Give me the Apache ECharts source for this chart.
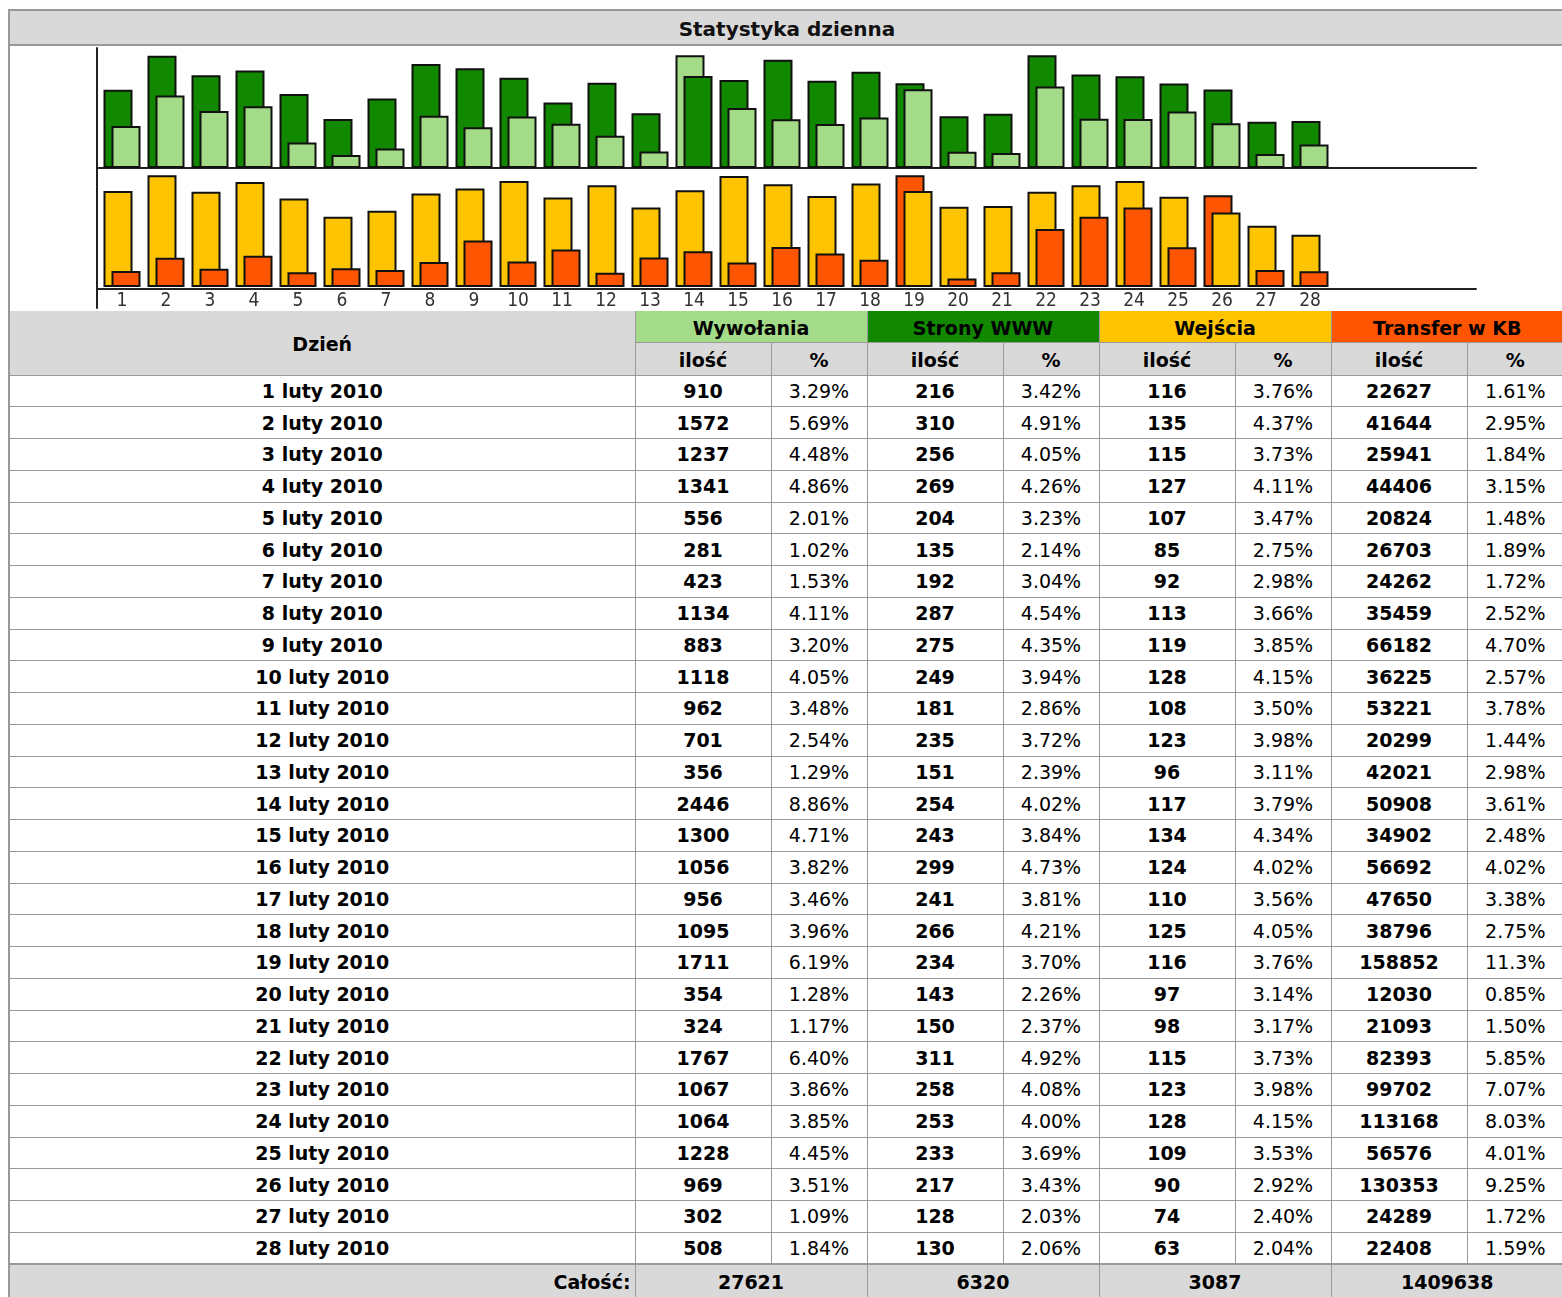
<!DOCTYPE html>
<html>
<head>
<meta charset="utf-8">
<script src="https://cdn.jsdelivr.net/npm/echarts@6/dist/echarts.min.js"></script>
<style>
html, body { margin: 0; padding: 0; background: #fff; overflow: hidden; width: 1562px; height: 1297px; }
#box { position: absolute; left: 8px; top: 9px; width: 1554px; border: 2px solid #999; font-family: "DejaVu Sans", Verdana, sans-serif; color: #000; background: #fff; }
#title { height: 33px; line-height: 37px; overflow: hidden; background: #d9d9d9; border-bottom: 2px solid #999; text-align: center; font-weight: bold; font-size: 20px; color: #111; }
#chart { width: 1554px; height: 265px; }
table { border-collapse: collapse; border-style: hidden; width: 1553px; table-layout: fixed; font-size: 19px; }
td, th { border: 1px solid #999; text-align: center; padding: 0; white-space: nowrap; overflow: hidden; }
th { font-weight: bold; }
.g { background: #d9d9d9; }
tr.h1 { height: 31px; }
tr.h1 th { padding-top: 3px; }
tr.h2 { height: 33px; }
tr.h2 th { padding-top: 2px; }
tbody tr { height: 31.75px; }
td.b { font-weight: bold; }
tfoot td { background: #d9d9d9; font-weight: bold; height: 34px; border-top: 2px solid #999; padding-top: 0; }
tfoot td.lbl { text-align: right; padding-right: 4px; }
</style>
</head>
<body>
<div id="box">
  <div id="title">Statystyka dzienna</div>
  <div id="chart"></div>
  <table>
    <colgroup>
      <col style="width:625px">
      <col style="width:136px"><col style="width:96px">
      <col style="width:136px"><col style="width:96px">
      <col style="width:136px"><col style="width:96px">
      <col style="width:136px"><col style="width:96px">
    </colgroup>
    <thead>
      <tr class="h1">
        <th rowspan="2" class="g">Dzień</th>
        <th colspan="2" style="background:#a3db89">Wywołania</th>
        <th colspan="2" style="background:#118800">Strony WWW</th>
        <th colspan="2" style="background:#ffc400">Wejścia</th>
        <th colspan="2" style="background:#ff5500">Transfer w KB</th>
      </tr>
      <tr class="h2 g">
        <th>ilość</th><th>%</th><th>ilość</th><th>%</th><th>ilość</th><th>%</th><th>ilość</th><th>%</th>
      </tr>
    </thead>
    <tbody id="rows"></tbody>
    <tfoot><tr id="foot"></tr></tfoot>
  </table>
</div>
<script>
const dayLabels = ['1','2','3','4','5','6','7','8','9','10','11','12','13','14','15','16','17','18','19','20','21','22','23','24','25','26','27','28']
const monthLabel = 'luty 2010'
const emptySlots = 3

// Wywołania
const hits = [910,1572,1237,1341,556,281,423,1134,883,1118,962,701,356,2446,1300,1056,956,1095,1711,354,324,1767,1067,1064,1228,969,302,508]
const hitsPct = ['3.29','5.69','4.48','4.86','2.01','1.02','1.53','4.11','3.20','4.05','3.48','2.54','1.29','8.86','4.71','3.82','3.46','3.96','6.19','1.28','1.17','6.40','3.86','3.85','4.45','3.51','1.09','1.84']
// Strony WWW
const pages = [216,310,256,269,204,135,192,287,275,249,181,235,151,254,243,299,241,266,234,143,150,311,258,253,233,217,128,130]
const pagesPct = ['3.42','4.91','4.05','4.26','3.23','2.14','3.04','4.54','4.35','3.94','2.86','3.72','2.39','4.02','3.84','4.73','3.81','4.21','3.70','2.26','2.37','4.92','4.08','4.00','3.69','3.43','2.03','2.06']
// Wejścia
const visits = [116,135,115,127,107,85,92,113,119,128,108,123,96,117,134,124,110,125,116,97,98,115,123,128,109,90,74,63]
const visitsPct = ['3.76','4.37','3.73','4.11','3.47','2.75','2.98','3.66','3.85','4.15','3.50','3.98','3.11','3.79','4.34','4.02','3.56','4.05','3.76','3.14','3.17','3.73','3.98','4.15','3.53','2.92','2.40','2.04']
// Transfer w KB
const transfer = [22627,41644,25941,44406,20824,26703,24262,35459,66182,36225,53221,20299,42021,50908,34902,56692,47650,38796,158852,12030,21093,82393,99702,113168,56576,130353,24289,22408]
const transferPct = ['1.61','2.95','1.84','3.15','1.48','1.89','1.72','2.52','4.70','2.57','3.78','1.44','2.98','3.61','2.48','4.02','3.38','2.75','11.3','0.85','1.50','5.85','7.07','8.03','4.01','9.25','1.72','1.59']

const totals = [27621, 6320, 3087, 1409638]

const colHits = '#a3db89'
const colPages = '#118800'
const colVisits = '#ffc400'
const colTransfer = '#ff5500'

// table
const tbody = document.getElementById('rows')
dayLabels.forEach((d, i) => {
  const tr = document.createElement('tr')
  tr.innerHTML = `<td class="b">${d} ${monthLabel}</td>` +
    `<td class="b">${hits[i]}</td><td>${hitsPct[i]}%</td>` +
    `<td class="b">${pages[i]}</td><td>${pagesPct[i]}%</td>` +
    `<td class="b">${visits[i]}</td><td>${visitsPct[i]}%</td>` +
    `<td class="b">${transfer[i]}</td><td>${transferPct[i]}%</td>`
  tbody.appendChild(tr)
})
document.getElementById('foot').innerHTML = '<td class="lbl">Całość:</td>' +
  totals.map(t => `<td colspan="2">${t}</td>`).join('')

// each metric is scaled to its own max, taller one goes behind
function pairBars(a, colA, b, colB) {
  const maxA = Math.max(...a)
  const maxB = Math.max(...b)
  const back = []
  const front = []
  a.forEach((v, i) => {
    const na = v / maxA * 100
    const nb = b[i] / maxB * 100
    if (nb >= na) {
      back.push({ value: nb, itemStyle: { color: colB } })
      front.push({ value: na, itemStyle: { color: colA } })
    } else {
      back.push({ value: na, itemStyle: { color: colA } })
      front.push({ value: nb, itemStyle: { color: colB } })
    }
  })
  return [back, front]
}

const [topBack, topFront] = pairBars(hits, colHits, pages, colPages)
const [botBack, botFront] = pairBars(transfer, colTransfer, visits, colVisits)

const categories = dayLabels.concat(new Array(emptySlots).fill(''))

const barStyle = { borderColor: '#111', borderWidth: 2 }
const lineStyle = { color: '#222', width: 2 }

const hiddenCat = (gridIndex) => ({
  type: 'category', gridIndex, data: categories, boundaryGap: true,
  axisLine: { show: false }, axisTick: { show: false }, axisLabel: { show: false }
})
const frameX = (gridIndex, offset) => ({
  type: 'category', gridIndex, data: [''], offset,
  axisLine: { show: true, onZero: false, lineStyle }, axisTick: { show: false }, axisLabel: { show: false }
})
const frameY = (gridIndex) => ({
  type: 'value', gridIndex, min: 0, max: 1,
  axisLine: { show: true, lineStyle }, axisTick: { show: false }, axisLabel: { show: false }, splitLine: { show: false }
})

const chart = echarts.init(document.getElementById('chart'), null, { renderer: 'canvas' })
chart.setOption({
  animation: false,
  grid: [
    { left: 90, top: 2, width: 1364, height: 120 },
    { left: 90, top: 122, width: 1364, height: 121 },
    { left: 87, top: 2, width: 1379, height: 120 },
    { left: 87, top: 122, width: 1379, height: 140 }
  ],
  xAxis: [
    hiddenCat(0),
    Object.assign(hiddenCat(1), {
      axisLabel: { show: true, interval: 0, margin: 5, fontSize: 19, color: '#333',
        fontFamily: '"DejaVu Sans Condensed", "Liberation Sans Narrow", "DejaVu Sans", sans-serif' }
    }),
    frameX(2, 0),
    frameX(3, -19)
  ],
  yAxis: [
    { type: 'value', gridIndex: 0, min: 0, max: 106.5, show: false },
    { type: 'value', gridIndex: 1, min: 0, max: 106.5, show: false },
    frameY(2),
    frameY(3)
  ],
  series: [
    { type: 'bar', xAxisIndex: 0, yAxisIndex: 0, data: topBack, barWidth: 29, barGap: '-72.4%', itemStyle: barStyle, z: 2 },
    { type: 'bar', xAxisIndex: 0, yAxisIndex: 0, data: topFront, barWidth: 29, barGap: '-72.4%', itemStyle: barStyle, z: 3 },
    { type: 'bar', xAxisIndex: 1, yAxisIndex: 1, data: botBack, barWidth: 29, barGap: '-72.4%', itemStyle: barStyle, z: 2 },
    { type: 'bar', xAxisIndex: 1, yAxisIndex: 1, data: botFront, barWidth: 29, barGap: '-72.4%', itemStyle: barStyle, z: 3 }
  ]
})
</script>
</body>
</html>
